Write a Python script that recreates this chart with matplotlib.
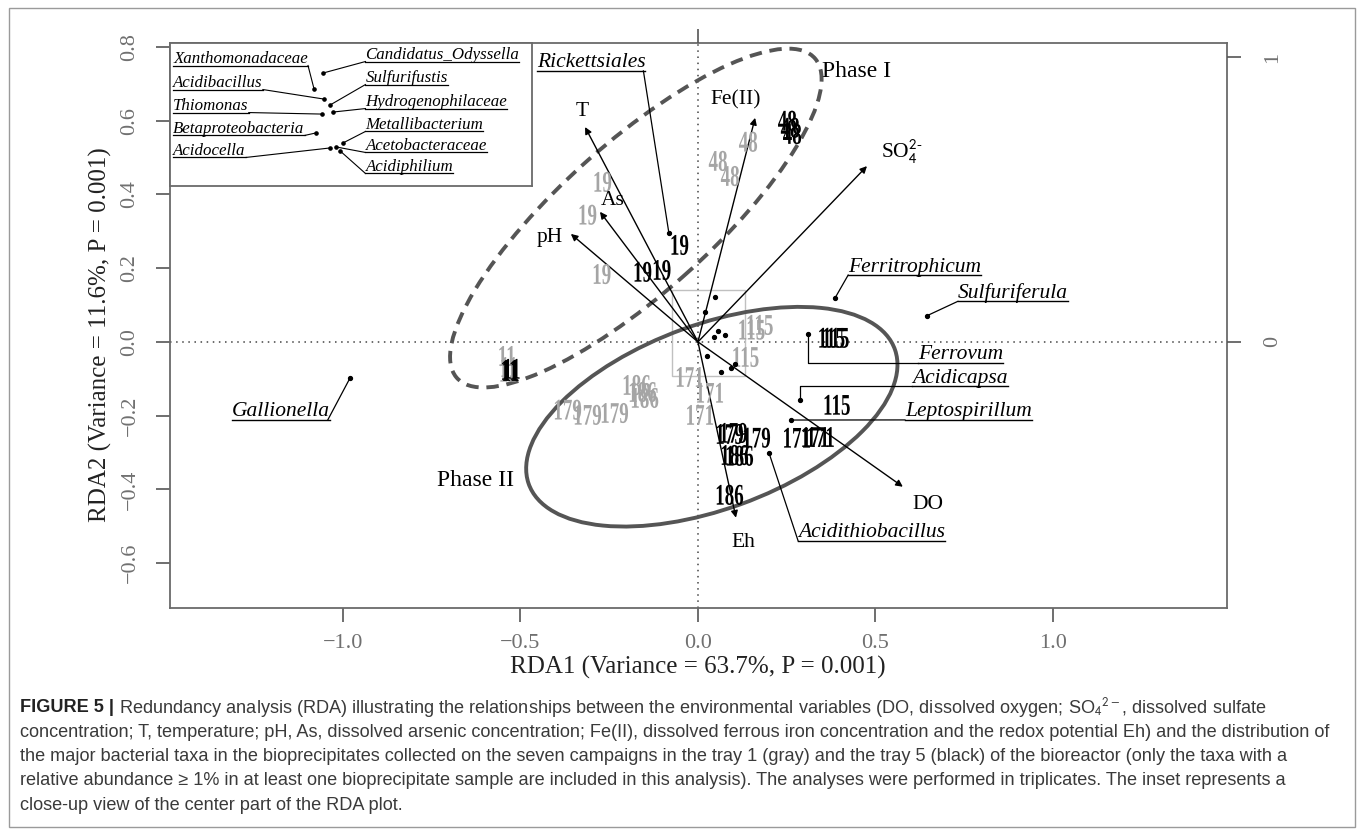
import matplotlib
matplotlib.use('Agg')
import matplotlib.pyplot as plt
import matplotlib.transforms as mtransforms
from matplotlib.patches import Ellipse, Rectangle, PathPatch
from matplotlib.lines import Line2D
from matplotlib.textpath import TextPath
from matplotlib.font_manager import FontProperties

plt.rcParams['font.family'] = ['Liberation Serif', 'DejaVu Serif']
plt.rcParams['mathtext.fontset'] = 'stix'

W, H = 1357, 835

# ---------------- data ----------------
env_names = ['T', 'As', 'pH', 'Fe(II)', r'SO$_\mathsf{4}^\mathsf{2\text{-}}$', 'DO', 'Eh']
env_x = [-0.318, -0.276, -0.358, 0.161, 0.476, 0.577, 0.107]
env_y = [0.583, 0.353, 0.293, 0.608, 0.477, -0.393, -0.477]
env_lab_x = [-0.327, -0.239, -0.417, 0.107, 0.575, 0.648, 0.127]
env_lab_y = [0.624, 0.385, 0.282, 0.657, 0.515, -0.442, -0.545]

tray1_labels = ['19', '19', '19', '48', '48', '48', '11', '11', '11', '115', '115', '115',
                '171', '171', '171', '179', '179', '179', '186', '186', '186']
tray1_x = [-0.268, -0.310, -0.270, 0.056, 0.141, 0.090, -0.538, -0.535, -0.532,
           0.152, 0.175, 0.135, -0.023, 0.034, 0.006, -0.366, -0.310, -0.234,
           -0.172, -0.155, -0.149]
tray1_y = [0.434, 0.345, 0.184, 0.491, 0.543, 0.450, -0.038, -0.081, -0.068,
           0.033, 0.046, -0.041, -0.095, -0.138, -0.198, -0.184, -0.198, -0.193,
           -0.117, -0.136, -0.152]

tray5_labels = tray1_labels
tray5_x = [-0.051, -0.155, -0.101, 0.251, 0.259, 0.265, -0.530, -0.527, -0.524,
           0.377, 0.389, 0.392, 0.279, 0.330, 0.346, 0.090, 0.101, 0.166,
           0.104, 0.118, 0.090]
tray5_y = [0.263, 0.190, 0.195, 0.600, 0.581, 0.564, -0.076, -0.079, -0.073,
           0.011, 0.011, -0.171, -0.260, -0.258, -0.258, -0.250, -0.247, -0.260,
           -0.307, -0.309, -0.415]

taxa_names = ['Rickettsiales', 'Gallionella', 'Ferritrophicum', 'Sulfuriferula',
              'Ferrovum', 'Acidicapsa', 'Leptospirillum', 'Acidithiobacillus']
taxa_x = [-0.082, -0.980, 0.386, 0.645, 0.310, 0.287, 0.262, 0.200]
taxa_y = [0.296, -0.098, 0.119, 0.071, 0.022, -0.157, -0.212, -0.301]
taxa_lab_x = [-0.454, -1.313, 0.423, 0.732, 0.620, 0.603, 0.583, 0.282]
taxa_lab_y = [0.757, -0.190, 0.203, 0.133, -0.035, -0.098, -0.190, -0.518]
taxa_leader = ['right', 'right', 'left', 'left', 'elbow', 'elbow', 'left', 'left']

center_x = [0.048, 0.020, 0.056, 0.045, 0.076, 0.025, 0.104, 0.093, 0.065]
center_y = [0.122, 0.081, 0.030, 0.014, 0.019, -0.038, -0.060, -0.071, -0.081]

inset_names = ['Xanthomonadaceae', 'Acidibacillus', 'Thiomonas', 'Betaproteobacteria',
               'Acidocella', 'Candidatus_Odyssella', 'Sulfurifustis',
               'Hydrogenophilaceae', 'Metallibacterium', 'Acetobacteraceae', 'Acidiphilium']
inset_x = [0.398, 0.425, 0.420, 0.403, 0.442, 0.423, 0.442, 0.450, 0.478, 0.459, 0.470]
inset_y = [0.678, 0.608, 0.503, 0.371, 0.266, 0.790, 0.566, 0.517, 0.301, 0.273, 0.245]
inset_side = ['L', 'L', 'L', 'L', 'L', 'R', 'R', 'R', 'R', 'R', 'R']
inset_lab_y = [0.888, 0.720, 0.559, 0.399, 0.245, 0.916, 0.755, 0.587, 0.427, 0.280, 0.133]

phase_names = ['Phase I', 'Phase II']
phase_lab_x = [0.448, -0.625]
phase_lab_y = [0.733, -0.377]
ell_cx = [-0.175, 0.039]
ell_cy = [0.336, -0.203]
ell_a = [0.665, 0.547]
ell_b = [0.207, 0.251]
ell_ang = [40.5, 19.3]
ell_ls = ['--', '-']

xticks = [-1.0, -0.5, 0.0, 0.5, 1.0]
yticks = [-0.6, -0.4, -0.2, 0.0, 0.2, 0.4, 0.6, 0.8]
sec_ticks = [0, 1]
sec_scale = 0.773
zoom_box = [-0.073, -0.092, 0.132, 0.141]

xlabel = 'RDA1 (Variance = 63.7%, P = 0.001)'
ylabel = 'RDA2 (Variance = 11.6%, P = 0.001)'

caption_bold = 'FIGURE 5 | '
caption_lines = [
    r'Redundancy analysis (RDA) illustrating the relationships between the environmental variables (DO, dissolved oxygen; SO$_\mathsf{4}$$^\mathsf{2-}$, dissolved sulfate',
    'concentration; T, temperature; pH, As, dissolved arsenic concentration; Fe(II), dissolved ferrous iron concentration and the redox potential Eh) and the distribution of',
    'the major bacterial taxa in the bioprecipitates collected on the seven campaigns in the tray 1 (gray) and the tray 5 (black) of the bioreactor (only the taxa with a',
    'relative abundance \u2265 1% in at least one bioprecipitate sample are included in this analysis). The analyses were performed in triplicates. The inset represents a',
    'close-up view of the center part of the RDA plot.',
]

# ---------------- figure ----------------
fig = plt.figure(figsize=(W / 100, H / 100), dpi=100)
fig.patch.set_facecolor('white')
fig.add_artist(Rectangle((9 / W, 1 - 827 / H), (1355 - 9) / W, (827 - 8) / H,
                         transform=fig.transFigure, fill=False, ec='#9a9a9a', lw=1.0))

ax = fig.add_axes([170 / W, 1 - 608 / H, (1227 - 170) / W, (608 - 43) / H])
ax.set_xlim(-1.487, 1.490)
ax.set_ylim(-0.722, 0.811)
for s in ax.spines.values():
    s.set_color('#6a6a6a')
    s.set_linewidth(1.3)
ax.set_xticks(xticks)
ax.set_xticklabels(['\u22121.0', '\u22120.5', '0.0', '0.5', '1.0'])
ax.set_yticks(yticks)
ax.set_yticklabels(['\u22120.6', '\u22120.4', '\u22120.2', '0.0', '0.2', '0.4', '0.6', '0.8'],
                   rotation=90, va='center')
ax.tick_params(axis='both', direction='out', length=10, width=1.2, color='#555555',
               labelcolor='#707070', labelsize=16)
ax.tick_params(axis='x', pad=9)
ax.tick_params(axis='y', pad=12)

ax.axhline(0, color='#444444', lw=1.1, ls=(0, (1, 3)), zorder=1)
ax.axvline(0, color='#444444', lw=1.1, ls=(0, (1, 3)), zorder=1)

ax.add_patch(Rectangle((zoom_box[0], zoom_box[1]), zoom_box[2] - zoom_box[0],
                       zoom_box[3] - zoom_box[1], fill=False, ec='#c0c0c0', lw=1.0, zorder=1))

for cx, cy, a, b, ang, ls in zip(ell_cx, ell_cy, ell_a, ell_b, ell_ang, ell_ls):
    e = Ellipse((cx, cy), 2 * a, 2 * b, angle=ang, fill=False, ec='#555555', lw=2.8, zorder=2)
    if ls == '--':
        e.set_linestyle((0, (3.2, 2.0)))
    ax.add_patch(e)

for name, x, y, lx, ly in zip(env_names, env_x, env_y, env_lab_x, env_lab_y):
    ax.annotate('', xy=(x, y), xytext=(0, 0),
                arrowprops=dict(arrowstyle='-|>', color='black', lw=1.0,
                                mutation_scale=10, shrinkA=0, shrinkB=0), zorder=3)
    ax.text(lx, ly, name, ha='center', va='center', fontsize=15.5, color='black', zorder=4)

# condensed serif sample labels (Times-like, narrow as in the reference)
SX, SY = 19.0, 30.0


def sample_label(x, y, s, color, weight, z):
    fp = FontProperties(family='Liberation Serif', weight=weight)
    p = TextPath((0, 0), s, size=1, prop=fp)
    ext = p.get_extents()
    cx = (ext.x0 + ext.x1) / 2
    cy = (ext.y0 + ext.y1) / 2
    tr = (mtransforms.Affine2D().translate(-cx, -cy).scale(SX, SY)
          + mtransforms.ScaledTranslation(x, y, ax.transData))
    patch = PathPatch(p, transform=tr, fc=color, ec='none', zorder=z)
    patch.set_clip_on(False)
    ax.add_artist(patch)


for lab, x, y in zip(tray1_labels, tray1_x, tray1_y):
    sample_label(x, y, lab, '#a5a5a5', 'bold', 3)
for lab, x, y in zip(tray5_labels, tray5_x, tray5_y):
    sample_label(x, y, lab, 'black', 'bold', 4)

ax.plot(center_x, center_y, 'o', color='black', ms=2.8, zorder=5)
ax.plot(taxa_x, taxa_y, 'o', color='black', ms=2.8, zorder=5)

for name, lx, ly in zip(phase_names, phase_lab_x, phase_lab_y):
    ax.text(lx, ly, name, ha='center', va='center', fontsize=17, color='black')

taxa_texts = []
for name, lx, ly in zip(taxa_names, taxa_lab_x, taxa_lab_y):
    t = ax.text(lx, ly, name, ha='left', va='center', fontsize=15.5, style='italic',
                color='black', zorder=6)
    taxa_texts.append(t)

# secondary axes (right and top)
ax2 = ax.twinx()
ax2.set_ylim(ax.get_ylim()[0] / sec_scale, ax.get_ylim()[1] / sec_scale)
ax2.set_yticks(sec_ticks)
ax2.set_yticklabels([str(v) for v in sec_ticks], rotation=90, va='center')
ax2.tick_params(axis='y', direction='out', length=10, width=1.2, color='#555555',
                labelcolor='#707070', labelsize=16, pad=16)
for s in ax2.spines.values():
    s.set_visible(False)
ax3 = ax.twiny()
ax3.set_xlim(ax.get_xlim()[0] / sec_scale, ax.get_xlim()[1] / sec_scale)
ax3.set_xticks([0])
ax3.set_xticklabels([''])
ax3.tick_params(axis='x', direction='out', length=10, width=1.2, color='#555555')
for s in ax3.spines.values():
    s.set_visible(False)

fig.text(698 / W, 1 - 667 / H, xlabel, ha='center', va='center', fontsize=18, color='#222222')
fig.text(100 / W, 1 - 335 / H, ylabel, ha='center', va='center', rotation=90,
         fontsize=18, color='#222222')

# inset
axi = fig.add_axes([170 / W, 1 - 186 / H, 362 / W, 143 / H])
axi.set_xlim(0, 1)
axi.set_ylim(0, 1)
axi.set_xticks([])
axi.set_yticks([])
for s in axi.spines.values():
    s.set_color('#6a6a6a')
    s.set_linewidth(1.3)
axi.set_zorder(10)
axi.plot(inset_x, inset_y, 'o', color='black', ms=2.3)
inset_texts = []
for name, side, ly in zip(inset_names, inset_side, inset_lab_y):
    lx = 0.009 if side == 'L' else 0.540
    t = axi.text(lx, ly, name, ha='left', va='center', fontsize=12.2, style='italic',
                 color='black')
    inset_texts.append(t)

# caption
cap_y0 = 708
cap_dy = 24.3
tb = fig.text(20 / W, 1 - cap_y0 / H, caption_bold, ha='left', va='center', fontsize=12,
              fontweight='bold', color='#222222', family=['Liberation Sans', 'DejaVu Sans'])
fig.canvas.draw()
renderer = fig.canvas.get_renderer()
bb = tb.get_window_extent(renderer)
cap_texts = []
for i, line in enumerate(caption_lines):
    x0 = bb.x1 / W if i == 0 else 20 / W
    t = fig.text(x0, 1 - (cap_y0 + i * cap_dy) / H, line, ha='left', va='center',
                 fontsize=12, color='#3a3a3a', family=['Liberation Sans', 'DejaVu Sans'])
    cap_texts.append(t)
fig.canvas.draw()
w2 = cap_texts[1].get_window_extent(renderer).width
fs = 12 * (1320 / w2)
tb.set_fontsize(fs)
for t in cap_texts:
    t.set_fontsize(fs)
fig.canvas.draw()
bb = tb.get_window_extent(renderer)
cap_texts[0].set_x(bb.x1 / W)
fig.canvas.draw()

inv = fig.transFigure.inverted()


def fig_line(xs, ys, lw=0.9, color='black', z=20):
    pts = inv.transform(list(zip(xs, ys)))
    fig.add_artist(Line2D(pts[:, 0], pts[:, 1], transform=fig.transFigure,
                          color=color, lw=lw, zorder=z))


def underline_of(t):
    b = t.get_window_extent(renderer)
    return b.x0, b.x1, b.y0 + 1.5


for t, px, py, mode in zip(taxa_texts, taxa_x, taxa_y, taxa_leader):
    x0, x1, uy = underline_of(t)
    fig_line([x0, x1], [uy, uy], lw=1.0)
    dx, dy = ax.transData.transform((px, py))
    if mode == 'right':
        fig_line([x1 - 2, dx], [uy, dy])
    elif mode == 'left':
        fig_line([dx, x0], [dy, uy])
    else:
        fig_line([dx, dx, x0], [dy, uy, uy])

for t, px, py, side in zip(inset_texts, inset_x, inset_y, inset_side):
    x0, x1, uy = underline_of(t)
    fig_line([x0, x1], [uy, uy], lw=0.9)
    dx, dy = axi.transData.transform((px, py))
    if side == 'L':
        fig_line([x1, dx], [uy, dy], lw=0.8)
    else:
        fig_line([dx, x0], [dy, uy], lw=0.8)

fig.savefig('out.png', dpi=100, facecolor='white')
